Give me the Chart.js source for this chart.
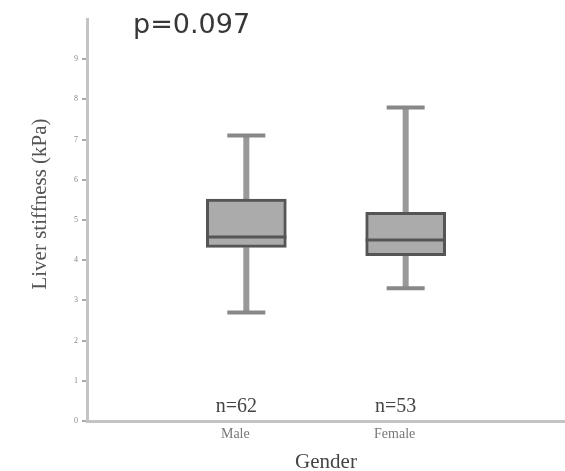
<!DOCTYPE html>
<html>
<head>
<meta charset="utf-8">
<script src="https://cdn.jsdelivr.net/npm/chart.js@4/dist/chart.umd.min.js"></script>
<style>
  html, body { margin: 0; padding: 0; background: #fff; }
  #wrap { width: 565px; height: 471px; position: relative; }
</style>
</head>
<body>
<div id="wrap"><canvas id="box"></canvas></div>
<script>
// box plot: liver stiffness by gender
const groups = ["Male", "Female"];
const groupN = [62, 53];
const whiskerLow = [2.7, 3.3];
const q1 = [4.32, 4.11];
const median = [4.58, 4.5];
const q3 = [5.52, 5.19];
const whiskerHigh = [7.1, 7.8];
const yTicks = [0, 1, 2, 3, 4, 5, 6, 7, 8, 9];
const pText = "p=0.097";
const yTitle = "Liver stiffness (kPa)";

// empty slots on both sides so the boxes sit at 1/3 and 2/3 of the axis
const labels = [""].concat(groups, [""]);
const pad = arr => [null].concat(arr, [null]);
const lowP = pad(whiskerLow), q1P = pad(q1), medP = pad(median), q3P = pad(q3), highP = pad(whiskerHigh);
const nP = pad(groupN);

const whiskers = {
  id: "whiskers",
  beforeDatasetsDraw(chart) {
    const ctx = chart.ctx, x = chart.scales.x, y = chart.scales.y;
    ctx.save();
    labels.forEach((l, i) => {
      if (highP[i] == null) return;
      const px = x.getPixelForValue(i);
      ctx.strokeStyle = "#999";
      ctx.lineWidth = 6;
      ctx.beginPath();
      ctx.moveTo(px, y.getPixelForValue(highP[i]));
      ctx.lineTo(px, y.getPixelForValue(q3P[i]));
      ctx.moveTo(px, y.getPixelForValue(q1P[i]));
      ctx.lineTo(px, y.getPixelForValue(lowP[i]));
      ctx.stroke();
      ctx.strokeStyle = "#888";
      ctx.lineWidth = 4;
      ctx.beginPath();
      [highP[i], lowP[i]].forEach(v => {
        const py = y.getPixelForValue(v);
        ctx.moveTo(px - 19, py);
        ctx.lineTo(px + 19, py);
      });
      ctx.stroke();
    });
    ctx.restore();
  },
  afterDatasetsDraw(chart) {
    const ctx = chart.ctx, x = chart.scales.x, y = chart.scales.y;
    const meta = chart.getDatasetMeta(0);
    ctx.save();
    labels.forEach((l, i) => {
      if (medP[i] == null) return;
      const bar = meta.data[i];
      const py = y.getPixelForValue(medP[i]);
      ctx.strokeStyle = "#555";
      ctx.lineWidth = 3;
      ctx.beginPath();
      ctx.moveTo(bar.x - bar.width / 2, py);
      ctx.lineTo(bar.x + bar.width / 2, py);
      ctx.stroke();
      // sample size above the axis
      ctx.fillStyle = "#444";
      ctx.font = "20px 'Liberation Serif'";
      ctx.textAlign = "center";
      ctx.textBaseline = "middle";
      ctx.fillText("n=" + nP[i], x.getPixelForValue(i) - 10, y.getPixelForValue(0) - 14);
    });
    ctx.fillStyle = "#383838";
    ctx.font = "27px 'DejaVu Sans'";
    ctx.textAlign = "left";
    ctx.textBaseline = "alphabetic";
    ctx.fillText(pText, 133, 33);
    // y axis title, sits a bit above the middle like the original
    ctx.translate(40, 204);
    ctx.rotate(-Math.PI / 2);
    ctx.fillStyle = "#555";
    ctx.font = "21px 'Liberation Serif'";
    ctx.textAlign = "center";
    ctx.textBaseline = "middle";
    ctx.fillText(yTitle, 0, 0);
    ctx.restore();
  }
};

new Chart(document.getElementById("box"), {
  type: "bar",
  data: {
    labels,
    datasets: [{
      data: labels.map((l, i) => (q1P[i] == null ? null : [q1P[i], q3P[i]])),
      backgroundColor: "#ababab",
      borderColor: "#555",
      borderWidth: 3,
      borderSkipped: false,
      barThickness: 80
    }]
  },
  plugins: [whiskers],
  options: {
    responsive: true,
    maintainAspectRatio: false,
    animation: false,
    layout: { padding: { top: 19, right: -9, left: 0, bottom: 0 } },
    plugins: { legend: { display: false }, tooltip: { enabled: false } },
    scales: {
      x: {
        offset: false,
        grid: { display: false },
        border: { color: "#c4c4c4", width: 3 },
        ticks: {
          color: "#777",
          font: { family: "Liberation Serif", size: 14 },
          labelOffset: -11,
          padding: -3,
          maxRotation: 0,
          autoSkip: false
        },
        title: {
          display: true,
          text: "Gender",
          color: "#444",
          font: { family: "Liberation Serif", size: 21 },
          padding: { top: 12, bottom: -4 }
        },
        afterFit(s) { s.height = 50; }
      },
      y: {
        min: 0,
        max: 10,
        afterBuildTicks(s) { s.ticks = yTicks.concat([10]).map(v => ({ value: v })); },
        grid: {
          drawOnChartArea: false,
          tickLength: 5,
          lineWidth: 2,
          color: c => (c.tick && c.tick.value === 10 ? "rgba(0,0,0,0)" : "#aaa")
        },
        border: { color: "#c4c4c4", width: 3 },
        ticks: {
          color: "#888",
          font: { family: "Liberation Serif", size: 8 },
          padding: 4,
          callback: v => (yTicks.includes(v) ? String(v) : "")
        },
        afterFit(s) { s.width = 87; }
      }
    }
  }
});
</script>
</body>
</html>
